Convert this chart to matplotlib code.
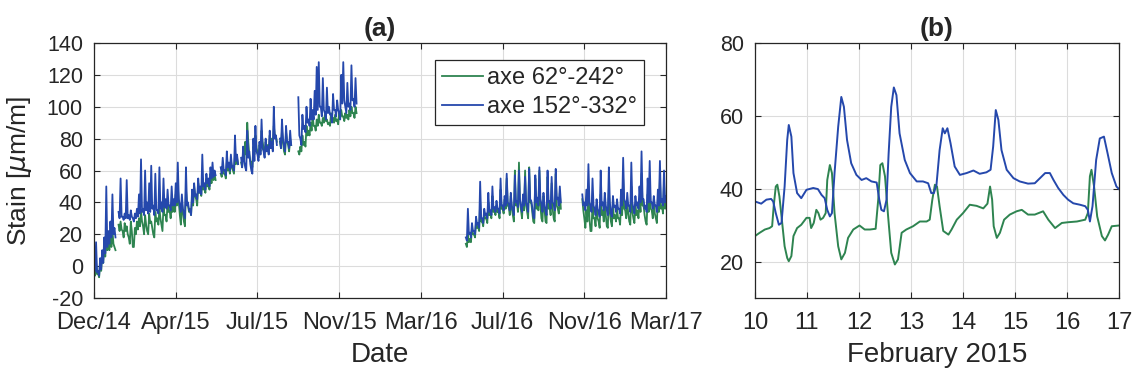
"""Strain time series: full record (a) and one week zoom (b)."""

import matplotlib
matplotlib.use("Agg")
import matplotlib.pyplot as plt
import numpy as np

# ─── Palette ──────────────────────────────────────────────────────────────────
GREEN = "#2e8450"
BLUE = "#2548ac"
TEXT = "#262626"
GRID = "#dcdcdc"

nan = np.nan

# ─── Data (a): days since 1 Dec 2014, one high / low pair every 3 days ───────
TICK_DAYS = [0, 120, 240, 360, 480, 600, 720, 840]
TICK_LABELS = ["Dec/14", "Apr/15", "Jul/15", "Nov/15", "Mar/16", "Jul/16", "Nov/16", "Mar/17"]

seg1_start, seg2_start, seg3_start = 0, 546, 717

blue_hi_seg1 = [
    0, 15, -3, 5, 10, 18, 50, 22, 28, 45, 24,
    nan,
    34, 55, 31, 33, 54, 32, 35, 30, 33, 36,
    45, 67, 36, 60, 40, 52, 63, 38, 58, 35, 62, 40, 55, 42, 48, 38, 50,
    42, 52, 65, 38, 45, 33, 62, 40, 35, 48, 52, 45, 55, 50, 70, 52, 58, 55, 62, 65, 60,
    nan, nan,
    62, 68, 60, 72, 65, 70, 63, 82, 70,
    nan,
    68, 75, 62, 85, 72, 60, 80, 88, 70, 78, 92, 72, 80, 75, 85, 78, 100, 82,
    nan,
    80, 92, 75, 88, 78, 85,
    nan, nan, nan,
    106, 80, 95, 88, 100, 92, 105, 98, 110, 125,
    128, 100, 118, 96, 112, 100, 95, 108, 98, 104,
    96, 120, 128, 100, 115, 102, 126, 105, 118,
]
blue_lo_seg1 = [
    -3, -4, -6, -2, 2, 8, 12, 14, 18, 20, 18,
    nan,
    30, 31, 29, 30, 30, 29, 31, 28, 30, 31,
    33, 34, 32, 35, 33, 34, 36, 32, 35, 33, 36, 34, 37, 36, 38, 35, 38,
    38, 40, 42, 34, 36, 30, 38, 35, 32, 40, 44, 42, 46, 45, 50, 48, 52, 50, 55, 56, 57,
    nan, nan,
    58, 60, 57, 62, 60, 62, 60, 66, 64,
    nan,
    62, 66, 60, 68, 64, 58, 66, 72, 66, 70, 74, 68, 72, 70, 74, 72, 80, 76,
    nan,
    74, 80, 72, 78, 74, 76,
    nan, nan, nan,
    82, 76, 86, 84, 90, 88, 92, 92, 95, 98,
    100, 94, 98, 92, 96, 95, 90, 98, 94, 98,
    92, 102, 104, 96, 100, 98, 104, 100, 102,
]
green_hi_seg1 = [
    -4, 2, -5, 3, 8, 14, 20, 15, 18, 22, 12,
    nan,
    26, 28, 22, 27, 25, 18, 28, 12, 24, 28,
    30, 35, 25, 32, 22, 33, 28, 20, 34, 30, 36, 26, 38, 32, 40, 35, 38,
    40, 45, 50, 32, 40, 28, 48, 38, 36, 44, 50, 42, 52, 48, 55, 50, 55, 52, 58, 60, 58,
    nan, nan,
    58, 62, 58, 65, 62, 66, 60, 70, 68,
    nan,
    65, 72, 78, 90, 70, 65, 75, 82, 72, 76, 85, 74, 78, 76, 82, 80, 88, 82,
    nan,
    78, 85, 72, 84, 76, 80,
    nan, nan, nan,
    72, 75, 82, 78, 88, 85, 90, 95, 88, 92,
    95, 90, 93, 95, 92, 90, 96, 93, 95, 92,
    97, 98, 94, 96, 95, 98, 100, 96, 100,
]
green_lo_seg1 = [
    -6, -5, -7, -3, 2, 6, 10, 10, 12, 14, 10,
    nan,
    22, 23, 18, 22, 20, 14, 22, 12, 20, 23,
    25, 28, 20, 26, 20, 27, 24, 18, 28, 26, 30, 22, 32, 28, 34, 30, 34,
    34, 38, 40, 26, 34, 25, 40, 34, 32, 38, 44, 38, 46, 44, 48, 46, 50, 48, 52, 54, 54,
    nan, nan,
    56, 58, 55, 60, 58, 62, 58, 64, 64,
    nan,
    62, 66, 70, 78, 66, 62, 70, 74, 68, 72, 78, 70, 74, 72, 76, 76, 82, 78,
    nan,
    74, 78, 70, 78, 72, 76,
    nan, nan, nan,
    70, 72, 76, 75, 82, 82, 85, 88, 85, 88,
    90, 88, 90, 91, 89, 88, 92, 90, 91, 89,
    93, 94, 91, 93, 92, 94, 96, 93, 96,
]
blue_hi_seg2 = [
    18, 36, 21, 27, 22, 31, 27, 53, 30, 36,
    33, 46, 35, 50, 37, 41, 36, 55, 38, 44,
    58, 39, 46, 35, 57, 41, 60, 37, 45, 56,
    38, 61, 41, 31, 57, 43, 62, 39, 46, 35,
    60, 41, 56, 39, 61, 43, 50,
]
blue_lo_seg2 = [
    16, 20, 18, 22, 20, 26, 24, 30, 27, 32,
    30, 34, 32, 36, 34, 36, 33, 38, 35, 38,
    40, 35, 38, 32, 40, 37, 42, 34, 38, 40,
    34, 42, 37, 30, 40, 38, 42, 34, 38, 32,
    40, 36, 40, 35, 42, 38, 40,
]
green_hi_seg2 = [
    14, 20, 17, 24, 20, 28, 25, 40, 28, 33,
    30, 40, 33, 44, 35, 38, 34, 48, 36, 42,
    55, 37, 44, 32, 60, 40, 65, 35, 43, 60,
    34, 62, 40, 28, 55, 40, 60, 30, 44, 28,
    56, 38, 52, 30, 58, 36, 46,
]
green_lo_seg2 = [
    12, 15, 15, 20, 18, 24, 22, 28, 25, 30,
    27, 32, 30, 34, 32, 34, 30, 36, 33, 36,
    38, 32, 36, 28, 38, 34, 40, 30, 35, 38,
    30, 40, 34, 27, 36, 35, 38, 28, 36, 27,
    36, 32, 36, 28, 38, 33, 36,
]
blue_hi_seg3 = [
    45, 40, 48, 64, 38, 55, 36, 42, 34, 60,
    40, 46, 35, 62, 33, 44, 38, 42, 36, 48,
    68, 40, 46, 38, 65, 36, 44, 40, 50, 72,
    42, 38, 55, 66, 40, 44, 38, 48, 66, 42,
    60, 44,
]
blue_lo_seg3 = [
    38, 35, 38, 40, 34, 38, 32, 36, 31, 38,
    35, 38, 32, 40, 31, 37, 34, 36, 33, 38,
    42, 36, 38, 34, 40, 33, 38, 36, 40, 42,
    36, 34, 40, 40, 36, 38, 34, 38, 40, 38,
    40, 38,
]
green_hi_seg3 = [
    42, 30, 35, 50, 22, 40, 30, 38, 28, 45,
    35, 40, 25, 48, 28, 38, 32, 36, 30, 40,
    55, 35, 40, 28, 50, 30, 38, 35, 42, 58,
    38, 28, 45, 52, 35, 40, 30, 42, 55, 38,
    52, 40,
]
green_lo_seg3 = [
    35, 24, 28, 30, 22, 30, 25, 30, 24, 32,
    28, 32, 24, 34, 25, 30, 28, 30, 26, 32,
    36, 30, 33, 26, 34, 27, 32, 30, 34, 38,
    32, 26, 34, 36, 30, 33, 27, 34, 36, 33,
    36, 34,
]

# ─── Data (b): 10-17 February 2015 ───────────────────────────────────────────
blue_days = [
    10.00, 10.12, 10.22, 10.31, 10.35, 10.40, 10.46, 10.51, 10.57, 10.62,
    10.65, 10.70, 10.74, 10.81, 10.89, 10.99, 11.12, 11.21, 11.28, 11.34,
    11.39, 11.44, 11.48, 11.53, 11.60, 11.66, 11.71, 11.77, 11.85, 11.95,
    12.05, 12.14, 12.24, 12.34, 12.39, 12.43, 12.48, 12.53, 12.57, 12.62,
    12.67, 12.72, 12.78, 12.88, 12.98, 13.11, 13.23, 13.33, 13.39, 13.44,
    13.49, 13.55, 13.61, 13.65, 13.70, 13.76, 13.84, 13.94, 14.07, 14.20,
    14.32, 14.45, 14.53, 14.58, 14.63, 14.68, 14.74, 14.84, 14.97, 15.09,
    15.25, 15.38, 15.48, 15.58, 15.67, 15.74, 15.83, 15.93, 16.02, 16.12,
    16.25, 16.35, 16.40, 16.44, 16.49, 16.56, 16.63, 16.71, 16.78, 16.86,
    16.95, 17.00,
]
blue_week = [
    36.5, 35.9, 37.0, 37.2, 36.5, 33.3, 30.1, 30.6, 40.6, 53.4,
    57.5, 54.3, 44.3, 38.8, 37.4, 39.7, 40.2, 39.9, 38.3, 37.4,
    34.2, 32.4, 33.3, 44.3, 57.0, 65.2, 62.5, 53.4, 47.0, 43.8,
    42.4, 42.9, 42.0, 41.7, 37.0, 34.2, 33.8, 37.0, 49.7, 62.5,
    67.8, 65.7, 55.2, 47.9, 44.3, 42.0, 42.0, 41.5, 38.8, 38.8,
    41.1, 50.6, 56.6, 55.2, 56.6, 52.5, 46.1, 43.8, 44.3, 45.0,
    44.1, 44.5, 45.2, 51.6, 61.6, 58.9, 50.6, 45.2, 42.9, 42.0,
    41.4, 41.5, 42.9, 44.3, 44.3, 42.4, 40.2, 38.3, 37.0, 36.0,
    35.6, 35.2, 34.2, 31.0, 35.2, 47.9, 53.8, 54.3, 49.7, 44.3,
    40.6, 39.9,
]
green_days = [
    10.00, 10.09, 10.19, 10.28, 10.33, 10.36, 10.40, 10.43, 10.47, 10.53,
    10.57, 10.62, 10.65, 10.70, 10.74, 10.81, 10.89, 10.99, 11.05, 11.08,
    11.13, 11.18, 11.22, 11.26, 11.31, 11.36, 11.39, 11.44, 11.48, 11.53,
    11.60, 11.66, 11.73, 11.79, 11.89, 12.01, 12.11, 12.21, 12.32, 12.37,
    12.41, 12.45, 12.50, 12.56, 12.62, 12.69, 12.75, 12.82, 12.91, 13.04,
    13.17, 13.30, 13.36, 13.41, 13.46, 13.50, 13.55, 13.62, 13.72, 13.78,
    13.88, 14.00, 14.13, 14.26, 14.39, 14.47, 14.52, 14.56, 14.59, 14.65,
    14.71, 14.79, 14.90, 15.03, 15.13, 15.25, 15.38, 15.54, 15.64, 15.77,
    15.90, 16.02, 16.19, 16.35, 16.40, 16.44, 16.47, 16.52, 16.58, 16.67,
    16.73, 16.79, 16.86, 17.00,
]
green_week = [
    27.0, 27.9, 28.8, 29.2, 29.7, 35.2, 40.6, 41.1, 37.9, 29.7,
    24.2, 21.0, 20.1, 21.5, 27.0, 29.2, 30.1, 32.0, 32.0, 29.2,
    30.6, 34.2, 33.3, 31.5, 32.0, 33.3, 42.4, 46.5, 44.3, 33.3,
    24.2, 20.6, 22.4, 26.5, 28.8, 29.9, 28.8, 28.8, 29.0, 37.0,
    46.5, 47.0, 43.4, 32.4, 22.4, 19.2, 20.6, 27.9, 28.8, 29.7,
    31.0, 31.0, 31.5, 37.0, 41.1, 40.6, 35.2, 28.4, 27.4, 28.8,
    31.5, 33.3, 35.6, 35.3, 34.6, 35.9, 40.6, 37.0, 29.7, 26.5,
    27.9, 31.5, 32.9, 33.8, 34.2, 32.9, 32.9, 33.8, 31.5, 29.2,
    30.6, 30.8, 31.0, 31.5, 33.3, 43.4, 45.2, 40.6, 32.4, 27.0,
    25.8, 27.4, 29.7, 29.9,
]


def _style_axes(ax):
    """MATLAB-like box: inward ticks on all four sides, light grid."""
    for spine in ax.spines.values():
        spine.set_color(TEXT)
        spine.set_linewidth(0.9)
    ax.tick_params(direction="in", top=True, right=True, length=4,
                   width=0.8, colors=TEXT)
    ax.tick_params(axis="x", labelsize=17, pad=10)
    ax.tick_params(axis="y", labelsize=15.5, pad=8)
    ax.grid(True, color=GRID, linewidth=0.8)
    ax.set_axisbelow(True)


def _hi_lo(start, hi, lo):
    """Interleave the high and low value of every 3-day sample."""
    days = start + 3 * np.arange(len(hi))
    x = np.column_stack([days, days + 1.5]).ravel()
    y = np.column_stack([hi, lo]).ravel()
    return x, y


plt.rcParams["font.family"] = ["Liberation Sans", "DejaVu Sans"]
plt.rcParams["mathtext.fontset"] = "dejavusans"
plt.rcParams["axes.unicode_minus"] = False

fig = plt.figure(figsize=(11.37, 3.80), dpi=100)
fig.patch.set_facecolor("white")
ax_a = fig.add_axes([0.0827, 0.2158, 0.5031, 0.671])
ax_b = fig.add_axes([0.6640, 0.2158, 0.3202, 0.671])

# ─── Panel (a) ────────────────────────────────────────────────────────────────
green_parts = [
    (seg1_start, green_hi_seg1, green_lo_seg1),
    (seg2_start, green_hi_seg2, green_lo_seg2),
    (seg3_start, green_hi_seg3, green_lo_seg3),
]
blue_parts = [
    (seg1_start, blue_hi_seg1, blue_lo_seg1),
    (seg2_start, blue_hi_seg2, blue_lo_seg2),
    (seg3_start, blue_hi_seg3, blue_lo_seg3),
]
for k, part in enumerate(green_parts):
    x, y = _hi_lo(*part)
    ax_a.plot(x, y, color=GREEN, lw=1.3, label="axe 62°-242°" if k == 0 else None)
for k, part in enumerate(blue_parts):
    x, y = _hi_lo(*part)
    ax_a.plot(x, y, color=BLUE, lw=1.3, label="axe 152°-332°" if k == 0 else None)

_style_axes(ax_a)
ax_a.set_xlim(0, 840)
ax_a.set_ylim(-20, 140)
ax_a.set_xticks(TICK_DAYS)
ax_a.set_xticklabels(TICK_LABELS)
ax_a.set_yticks(range(-20, 141, 20))
ax_a.set_xlabel("Date", fontsize=20, color=TEXT, labelpad=6)
ax_a.set_ylabel(r"Stain [$\mu$m/m]", fontsize=19, color=TEXT)
ax_a.yaxis.set_label_coords(-0.105, 0.5)
ax_a.set_title("(a)", fontsize=19, fontweight="bold", color=TEXT, pad=5)

leg = ax_a.legend(loc="upper left", bbox_to_anchor=(0.596, 0.933),
                  fontsize=17, fancybox=False, framealpha=1,
                  edgecolor=TEXT, handlelength=1.75, handletextpad=0.15,
                  borderpad=0.3, labelspacing=0.3, borderaxespad=0)
leg.get_frame().set_linewidth(0.9)
for t in leg.get_texts():
    t.set_color(TEXT)

# ─── Panel (b) ────────────────────────────────────────────────────────────────
ax_b.plot(green_days, green_week, color=GREEN, lw=1.4)
ax_b.plot(blue_days, blue_week, color=BLUE, lw=1.4)

_style_axes(ax_b)
ax_b.set_xlim(10, 17)
ax_b.set_ylim(10, 80)
ax_b.set_xticks(range(10, 18))
ax_b.set_yticks([20, 40, 60, 80])
ax_b.set_xlabel("February 2015", fontsize=20, color=TEXT, labelpad=6)
ax_b.set_title("(b)", fontsize=19, fontweight="bold", color=TEXT, pad=5)

fig.savefig("out.png", dpi=100, facecolor=fig.get_facecolor())
